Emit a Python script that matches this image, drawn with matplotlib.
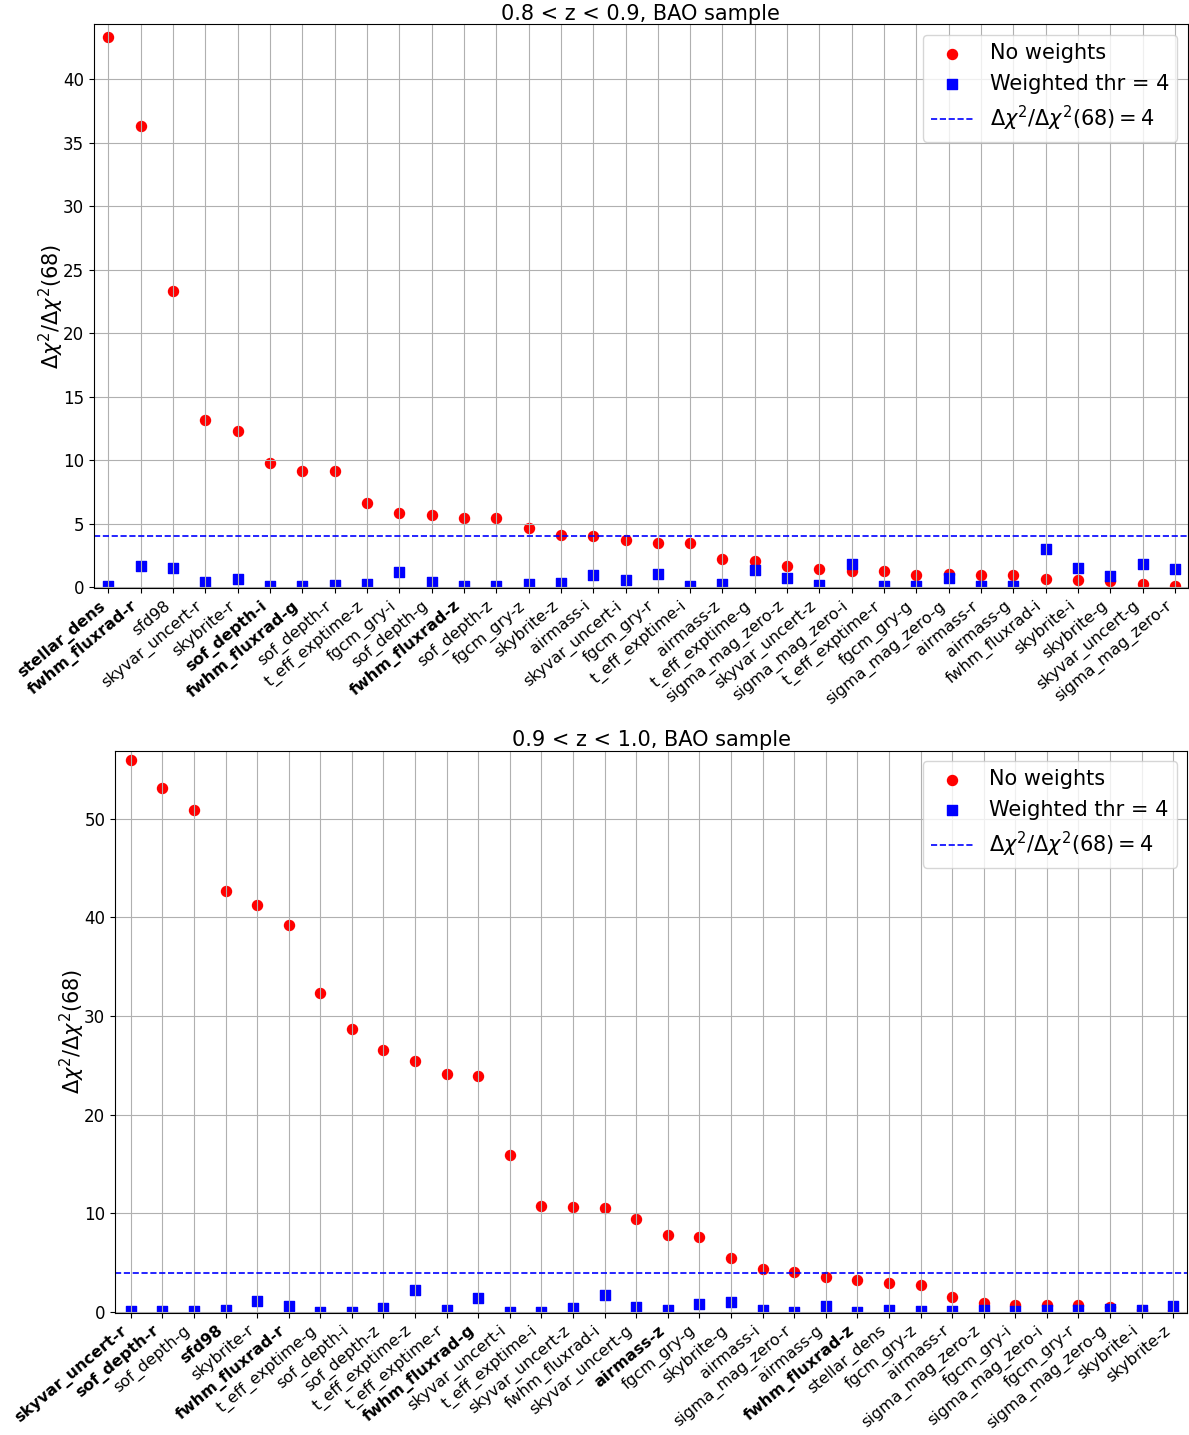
import matplotlib
matplotlib.use('Agg')
import matplotlib.pyplot as plt

# 0.8 < z < 0.9
labels_1 = ['stellar_dens', 'fwhm_fluxrad-r', 'sfd98', 'skyvar_uncert-r', 'skybrite-r',
            'sof_depth-i', 'fwhm_fluxrad-g', 'sof_depth-r', 't_eff_exptime-z', 'fgcm_gry-i',
            'sof_depth-g', 'fwhm_fluxrad-z', 'sof_depth-z', 'fgcm_gry-z', 'skybrite-z',
            'airmass-i', 'skyvar_uncert-i', 'fgcm_gry-r', 't_eff_exptime-i', 'airmass-z',
            't_eff_exptime-g', 'sigma_mag_zero-z', 'skyvar_uncert-z', 'sigma_mag_zero-i',
            't_eff_exptime-r', 'fgcm_gry-g', 'sigma_mag_zero-g', 'airmass-r', 'airmass-g',
            'fwhm_fluxrad-i', 'skybrite-i', 'skybrite-g', 'skyvar_uncert-g', 'sigma_mag_zero-r']
bold_1 = ['stellar_dens', 'fwhm_fluxrad-r', 'sof_depth-i', 'fwhm_fluxrad-g', 'fwhm_fluxrad-z']
noweight_1 = [43.3, 36.3, 23.3, 13.13, 12.26, 9.74, 9.13, 9.13, 6.63, 5.84,
              5.71, 5.47, 5.42, 4.66, 4.13, 4.02, 3.73, 3.48, 3.48, 2.18,
              2.05, 1.67, 1.46, 1.28, 1.28, 0.97, 1.0, 0.94, 0.94, 0.63,
              0.56, 0.45, 0.25, 0.12]
weighted_1 = [0.12, 1.69, 1.51, 0.39, 0.65, 0.1, 0.1, 0.18, 0.26, 1.17,
              0.42, 0.1, 0.1, 0.26, 0.34, 0.99, 0.56, 1.02, 0.12, 0.25,
              1.33, 0.68, 0.17, 1.8, 0.12, 0.12, 0.71, 0.12, 0.12, 2.96,
              1.54, 0.89, 1.8, 1.41]

# 0.9 < z < 1.0
labels_2 = ['skyvar_uncert-r', 'sof_depth-r', 'sof_depth-g', 'sfd98', 'skybrite-r',
            'fwhm_fluxrad-r', 't_eff_exptime-g', 'sof_depth-i', 'sof_depth-z', 't_eff_exptime-z',
            't_eff_exptime-r', 'fwhm_fluxrad-g', 'skyvar_uncert-i', 't_eff_exptime-i',
            'skyvar_uncert-z', 'fwhm_fluxrad-i', 'skyvar_uncert-g', 'airmass-z', 'fgcm_gry-g',
            'skybrite-g', 'airmass-i', 'sigma_mag_zero-r', 'airmass-g', 'fwhm_fluxrad-z',
            'stellar_dens', 'fgcm_gry-z', 'airmass-r', 'sigma_mag_zero-z', 'fgcm_gry-i',
            'sigma_mag_zero-i', 'fgcm_gry-r', 'sigma_mag_zero-g', 'skybrite-i', 'skybrite-z']
bold_2 = ['skyvar_uncert-r', 'sof_depth-r', 'sfd98', 'fwhm_fluxrad-r', 'fwhm_fluxrad-g',
          'airmass-z', 'fwhm_fluxrad-z']
noweight_2 = [55.9, 53.05, 50.9, 42.7, 41.2, 39.2, 32.3, 28.7, 26.6, 25.4,
              24.1, 23.9, 15.95, 10.75, 10.65, 10.57, 9.46, 7.8, 7.64, 5.47,
              4.32, 4.05, 3.51, 3.21, 2.97, 2.74, 1.55, 0.91, 0.74, 0.74,
              0.71, 0.51, 0.25, 0.07]
weighted_2 = [0.1, 0.07, 0.14, 0.2, 1.15, 0.64, 0.03, 0.03, 0.4, 2.26,
              0.17, 1.45, 0.03, 0.03, 0.44, 1.69, 0.54, 0.2, 0.81, 0.98,
              0.2, 0.03, 0.61, 0.03, 0.2, 0.14, 0.07, 0.2, 0.1, 0.2,
              0.2, 0.27, 0.2, 0.61]

threshold = 4

fig = plt.figure(figsize=(11.89, 14.35), dpi=100)
ax1 = fig.add_axes([0.079, 0.590, 0.92, 0.393])
ax2 = fig.add_axes([0.0967, 0.085, 0.902, 0.392])

panels = [
    (ax1, labels_1, bold_1, noweight_1, weighted_1, '0.8 < z < 0.9, BAO sample', (-0.45, 33.4), (-0.1, 44.3)),
    (ax2, labels_2, bold_2, noweight_2, weighted_2, '0.9 < z < 1.0, BAO sample', (-0.5, 33.45), (-0.1, 56.9)),
]

for ax, labels, bold, nw, w, title, xl, yl in panels:
    x = range(len(labels))
    ax.scatter(x, nw, c='red', marker='o', s=52, label='No weights')
    ax.scatter(x, w, c='blue', marker='s', s=45, label='Weighted thr = %d' % threshold)
    ax.axhline(threshold, color='blue', ls='--', lw=1.2,
               label=r'$\Delta\chi^2/\Delta\chi^2(68) = 4$')
    ax.grid(True, color='#b0b0b0', lw=0.8)
    ax.set_xticks(list(x))
    ax.set_xticklabels(labels, rotation=40, ha='right', fontsize=11.5)
    for t in ax.get_xticklabels():
        if t.get_text() in bold:
            t.set_fontweight('bold')
    ax.tick_params(axis='y', labelsize=12)
    ax.set_xlim(*xl)
    ax.set_ylim(*yl)
    ax.set_title(title, fontsize=15, pad=3)
    ax.set_ylabel(r'$\Delta\chi^2/\Delta\chi^2(68)$', fontsize=15, labelpad=-2)
    ax.legend(loc='upper right', fontsize=15, scatterpoints=1)

fig.savefig('out.png', dpi=100)
